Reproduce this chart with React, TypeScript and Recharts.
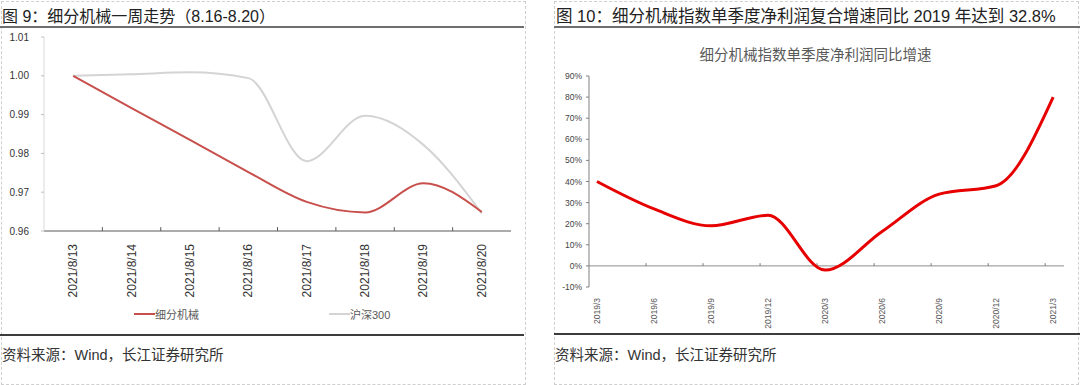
import React from 'react';
import { LineChart, Line, XAxis, YAxis, ReferenceLine } from 'recharts';

// 图 9 — weekly trend (normalised)
const weekDates = ['2021/8/13', '2021/8/14', '2021/8/15', '2021/8/16', '2021/8/17', '2021/8/18', '2021/8/19', '2021/8/20'];
const machinery = [1.0, 0.9917, 0.9835, 0.9752, 0.9675, 0.9648, 0.9723, 0.9649];
const hs300 = [1.0, 1.0004, 1.0009, 0.9994, 0.978, 0.9897, 0.9822, 0.9645];
const weekTicks = [0.96, 0.97, 0.98, 0.99, 1.0, 1.01];

// 图 10 — quarterly net profit YoY growth
const quarters = ['2019/3', '2019/6', '2019/9', '2019/12', '2020/3', '2020/6', '2020/9', '2020/12', '2021/3'];
const profitGrowth = [0.4, 0.27, 0.19, 0.24, -0.02, 0.163, 0.34, 0.38, 0.8];
const pctTicks = [-0.1, 0, 0.1, 0.2, 0.3, 0.4, 0.5, 0.6, 0.7, 0.8, 0.9];

const weekData = weekDates.map((d, i) => ({ x: i, m: machinery[i], h: hs300[i] }));
const quarterData = quarters.map((q, i) => ({ x: i, v: profitGrowth[i] }));

const FONT = '"Liberation Sans", Arial, "Noto Sans CJK SC", sans-serif';
const CJK = '"Liberation Sans", Arial, "Noto Sans CJK SC", sans-serif';

const WeekTick = (props: any) => {
  const { x, y, payload } = props;
  return (
    <text x={x} y={y} transform={`rotate(-90, ${x}, ${y})`} textAnchor="end" dominantBaseline="central" fontSize={12} fill="#333" fontFamily={FONT}>
      {weekDates[payload.value]}
    </text>
  );
};

const QuarterTick = (props: any) => {
  const { x, y, payload } = props;
  return (
    <text x={x} y={y} transform={`rotate(-90, ${x}, ${y})`} textAnchor="end" dominantBaseline="central" fontSize={8.5} fill="#555" fontFamily={FONT}>
      {quarters[payload.value]}
    </text>
  );
};

const WeekLegend = () => (
  <div style={{ position: 'absolute', top: 306, left: 0, width: 540, height: 18, fontFamily: CJK, fontSize: 11, color: '#595959' }}>
    <div style={{ position: 'absolute', left: 134, top: 0, display: 'flex', alignItems: 'center' }}>
      <span style={{ display: 'inline-block', width: 21, height: 2, background: '#c8504c' }} />
      <span>细分机械</span>
    </div>
    <div style={{ position: 'absolute', left: 329, top: 0, display: 'flex', alignItems: 'center' }}>
      <span style={{ display: 'inline-block', width: 21, height: 2, background: '#d4d4d4' }} />
      <span>沪深300</span>
    </div>
  </div>
);

export default function App() {
  const dashed = '1px dashed #cfcfcf';
  return (
    <div style={{ position: 'fixed', left: 0, top: 0, width: 1080, height: 385, background: '#fff', fontFamily: CJK, overflow: 'hidden' }}>
      {/* panel frames */}
      <div style={{ position: 'absolute', left: 1, top: 1, width: 523, height: 382, borderLeft: dashed, borderRight: dashed, borderTop: dashed, borderBottom: dashed }} />
      <div style={{ position: 'absolute', left: 554, top: 1, width: 523, height: 382, borderLeft: dashed, borderRight: dashed, borderTop: dashed, borderBottom: dashed }} />

      {/* titles */}
      <div style={{ position: 'absolute', left: 2, top: 3, fontSize: 16, color: '#222', whiteSpace: 'nowrap' }}>图 9：细分机械一周走势（8.16-8.20）</div>
      <div style={{ position: 'absolute', left: 0, top: 26, width: 524, height: 2, background: '#6e6e6e' }} />
      <div style={{ position: 'absolute', left: 556, top: 3, fontSize: 16.5, color: '#222', whiteSpace: 'nowrap' }}>图 10：细分机械指数单季度净利润复合增速同比 2019 年达到 32.8%</div>
      <div style={{ position: 'absolute', left: 554, top: 26, width: 526, height: 2, background: '#6e6e6e' }} />

      {/* left chart */}
      <div style={{ position: 'absolute', left: 0, top: 0 }}>
        <LineChart width={540} height={385} data={weekData} margin={{ top: 37, right: 29, bottom: 94, left: 0 }}>
          <XAxis
            dataKey="x"
            type="number"
            domain={[-0.5, 7.5]}
            ticks={[0, 1, 2, 3, 4, 5, 6, 7]}
            tick={<WeekTick />}
            tickLine={false}
            tickMargin={7}
            axisLine={{ stroke: '#595959' }}
            height={60}
          />
          <YAxis
            type="number"
            domain={[0.96, 1.01]}
            ticks={weekTicks}
            tickFormatter={(v: number) => v.toFixed(2)}
            width={44}
            tickSize={3}
            tickMargin={12}
            tick={{ fontSize: 10, fill: '#333', fontFamily: FONT }}
            axisLine={{ stroke: '#d9d9d9' }}
            tickLine={{ stroke: '#bfbfbf' }}
          />
          {weekDates.slice(1).map((d, i) => (
            <ReferenceLine key={d} segment={[{ x: i + 0.5, y: 0.96 }, { x: i + 0.5, y: 0.961 }]} stroke="#595959" ifOverflow="visible" />
          ))}
          <Line type="monotone" dataKey="h" stroke="#d4d4d4" strokeWidth={2} dot={false} isAnimationActive={false} />
          <Line type="monotone" dataKey="m" stroke="#c8504c" strokeWidth={2} dot={false} isAnimationActive={false} />
        </LineChart>
      </div>
      <WeekLegend />

      {/* right chart */}
      <div style={{ position: 'absolute', left: 540, top: 0 }}>
        <LineChart width={540} height={385} data={quarterData} margin={{ top: 76, right: 16, bottom: 58, left: 0 }}>
          <XAxis
            dataKey="x"
            type="number"
            domain={[-0.14, 8.19]}
            ticks={[0, 1, 2, 3, 4, 5, 6, 7, 8]}
            tick={<QuarterTick />}
            tickLine={false}
            tickMargin={5}
            axisLine={false}
            height={40}
          />
          <YAxis
            type="number"
            domain={[-0.1, 0.9]}
            ticks={pctTicks}
            tickFormatter={(v: number) => `${Math.round(v * 100)}%`}
            width={49}
            tickSize={3}
            tickMargin={4}
            tick={{ fontSize: 8.5, fill: '#444', fontFamily: FONT }}
            axisLine={{ stroke: '#808080' }}
            tickLine={{ stroke: '#808080' }}
          />
          <ReferenceLine y={0} stroke="#8c8c8c" ifOverflow="visible" />
          {quarters.slice(1).map((q, i) => (
            <ReferenceLine key={q} segment={[{ x: i + 0.86, y: 0 }, { x: i + 0.86, y: 0.013 }]} stroke="#7a7a7a" ifOverflow="visible" />
          ))}
          <Line type="monotone" dataKey="v" stroke="#e60000" strokeWidth={3} dot={false} isAnimationActive={false} />
        </LineChart>
      </div>
      <div style={{ position: 'absolute', left: 554, top: 43, width: 523, textAlign: 'center', fontSize: 14.5, color: '#595959', whiteSpace: 'nowrap' }}>
        细分机械指数单季度净利润同比增速
      </div>

      {/* sources */}
      <div style={{ position: 'absolute', left: 0, top: 334, width: 524, height: 2, background: '#3c3c3c' }} />
      <div style={{ position: 'absolute', left: 554, top: 333, width: 526, height: 2, background: '#3c3c3c' }} />
      <div style={{ position: 'absolute', left: 2, top: 343, fontSize: 14.5, color: '#333', whiteSpace: 'nowrap' }}>资料来源：Wind，长江证券研究所</div>
      <div style={{ position: 'absolute', left: 555, top: 343, fontSize: 14.5, color: '#333', whiteSpace: 'nowrap' }}>资料来源：Wind，长江证券研究所</div>
    </div>
  );
}
